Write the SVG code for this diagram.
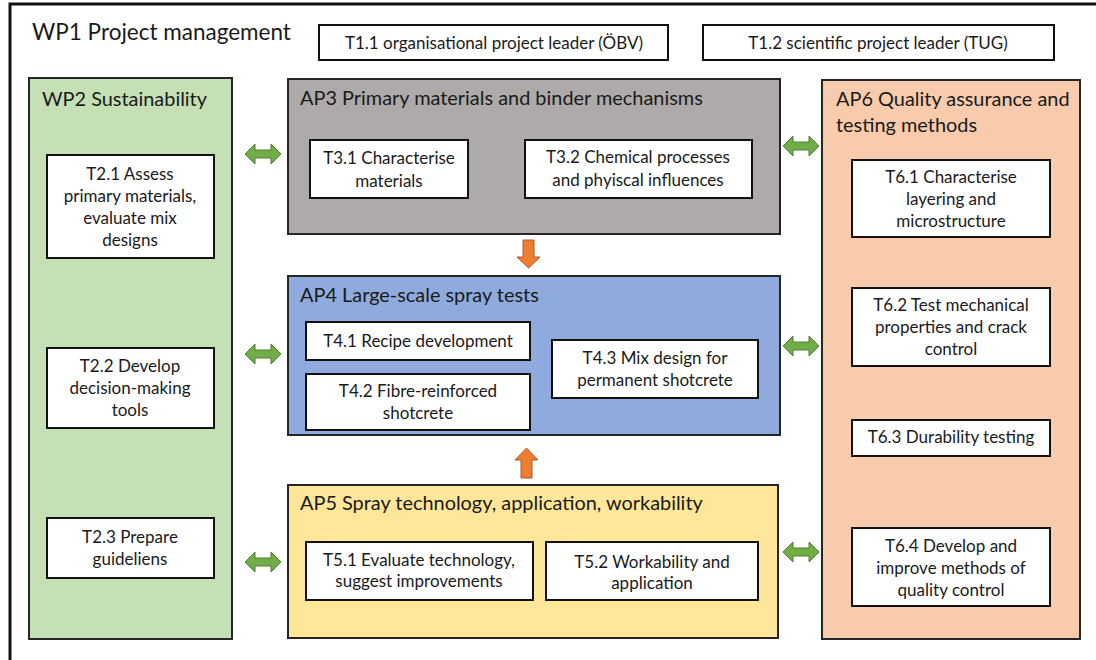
<svg xmlns="http://www.w3.org/2000/svg" width="1096" height="660" viewBox="0 0 1096 660">
<defs>
<style>
text{font-family:Lato,"Open Sans","Liberation Sans",sans-serif;fill:#1a1a1a}
.ttl{font-size:19.9px}
.big{font-size:22.5px}
.t{font-size:17px;text-anchor:middle}
.pk{stroke:#262626;stroke-width:2}
.task{fill:#fff;stroke:#111;stroke-width:2}
.ga{fill:#70ad47;stroke:#507e32;stroke-width:1}
.oa{fill:#ed7d31;stroke:#ae5a21;stroke-width:1}
</style>
<path id="dbl" d="M0,0 L10,-10 L10,-4 L26,-4 L26,-10 L36,0 L26,10 L26,4 L10,4 L10,10 Z"/>
</defs>
<rect x="0" y="0" width="1096" height="660" fill="#fff"/>
<rect x="10" y="4" width="1200" height="800" fill="#fff" stroke="#111" stroke-width="3"/>
<g id="wp1">
<text class="big" x="32" y="40">WP1 Project management</text>
</g>
<g id="t11"><rect class="task" x="319" y="25" width="349" height="35"/><text class="t" x="494" y="49">T1.1 organisational project leader (ÖBV)</text></g>
<g id="t12"><rect class="task" x="703" y="25" width="351" height="35"/><text class="t" x="878" y="49">T1.2 scientific project leader (TUG)</text></g>

<g id="wp2">
<rect class="pk" x="29" y="78" width="203" height="561" fill="#c5e0b4"/>
<text class="ttl" x="42" y="106">WP2 Sustainability</text>
</g>
<g id="t21"><rect class="task" x="47" y="155" width="167" height="103"/>
<text class="t" x="130" y="180">T2.1 Assess</text><text class="t" x="130" y="202">primary materials,</text><text class="t" x="130" y="224">evaluate mix</text><text class="t" x="130" y="246">designs</text></g>
<g id="t22"><rect class="task" x="47" y="348" width="167" height="80"/>
<text class="t" x="130" y="372">T2.2 Develop</text><text class="t" x="130" y="394">decision-making</text><text class="t" x="130" y="416">tools</text></g>
<g id="t23"><rect class="task" x="47" y="518" width="167" height="60"/>
<text class="t" x="130" y="543">T2.3 Prepare</text><text class="t" x="130" y="565">guideliens</text></g>

<g id="ap3">
<rect class="pk" x="288" y="79" width="492" height="155" fill="#aeaaaa"/>
<text class="ttl" x="300" y="105">AP3 Primary materials and binder mechanisms</text>
</g>
<g id="t31"><rect class="task" x="310" y="140" width="158" height="58"/>
<text class="t" x="389" y="164">T3.1 Characterise</text><text class="t" x="389" y="187">materials</text></g>
<g id="t32"><rect class="task" x="525" y="140" width="227" height="58"/>
<text class="t" x="638" y="163">T3.2 Chemical processes</text><text class="t" x="638" y="186">and phyiscal influences</text></g>

<g id="ap4">
<rect class="pk" x="288" y="276" width="492" height="159" fill="#8faadc"/>
<text class="ttl" x="300" y="302">AP4 Large-scale spray tests</text>
</g>
<g id="t41"><rect class="task" x="306" y="322" width="224" height="38"/>
<text class="t" x="418" y="347">T4.1 Recipe development</text></g>
<g id="t42"><rect class="task" x="306" y="374" width="224" height="56"/>
<text class="t" x="418" y="397">T4.2 Fibre-reinforced</text><text class="t" x="418" y="419">shotcrete</text></g>
<g id="t43"><rect class="task" x="552" y="340" width="206" height="58"/>
<text class="t" x="655" y="364">T4.3 Mix design for</text><text class="t" x="655" y="386">permanent shotcrete</text></g>

<g id="ap5">
<rect class="pk" x="288" y="485" width="490" height="153" fill="#ffe699"/>
<text class="ttl" x="300" y="510">AP5 Spray technology, application, workability</text>
</g>
<g id="t51"><rect class="task" x="306" y="542" width="227" height="58"/>
<text class="t" x="419" y="566">T5.1 Evaluate technology,</text><text class="t" x="419" y="587">suggest improvements</text></g>
<g id="t52"><rect class="task" x="546" y="542" width="212" height="58"/>
<text class="t" x="652" y="568">T5.2 Workability and</text><text class="t" x="652" y="589">application</text></g>

<g id="ap6">
<rect class="pk" x="822" y="80" width="258" height="559" fill="#f8cbad"/>
<text class="ttl" x="836" y="106">AP6 Quality assurance and</text>
<text class="ttl" x="836" y="132">testing methods</text>
</g>
<g id="t61"><rect class="task" x="852" y="160" width="198" height="77"/>
<text class="t" x="951" y="183">T6.1 Characterise</text><text class="t" x="951" y="205">layering and</text><text class="t" x="951" y="227">microstructure</text></g>
<g id="t62"><rect class="task" x="852" y="288" width="198" height="78"/>
<text class="t" x="951" y="311">T6.2 Test mechanical</text><text class="t" x="951" y="333">properties and crack</text><text class="t" x="951" y="355">control</text></g>
<g id="t63"><rect class="task" x="852" y="420" width="198" height="36"/>
<text class="t" x="951" y="443">T6.3 Durability testing</text></g>
<g id="t64"><rect class="task" x="852" y="528" width="198" height="78"/>
<text class="t" x="951" y="552">T6.4 Develop and</text><text class="t" x="951" y="574">improve methods of</text><text class="t" x="951" y="596">quality control</text></g>

<g id="connectors">
<use href="#dbl" class="ga" transform="translate(245,154)"/>
<use href="#dbl" class="ga" transform="translate(245,354)"/>
<use href="#dbl" class="ga" transform="translate(245,562)"/>
<use href="#dbl" class="ga" transform="translate(783,146)"/>
<use href="#dbl" class="ga" transform="translate(783,346)"/>
<use href="#dbl" class="ga" transform="translate(783,552)"/>
<path class="oa" d="M523,240 L534,240 L534,257 L540,257 L528.5,268 L517,257 L523,257 Z"/>
<path class="oa" d="M521,478 L532,478 L532,460 L538,460 L526.5,448 L515,460 L521,460 Z"/>
</g>
</svg>
